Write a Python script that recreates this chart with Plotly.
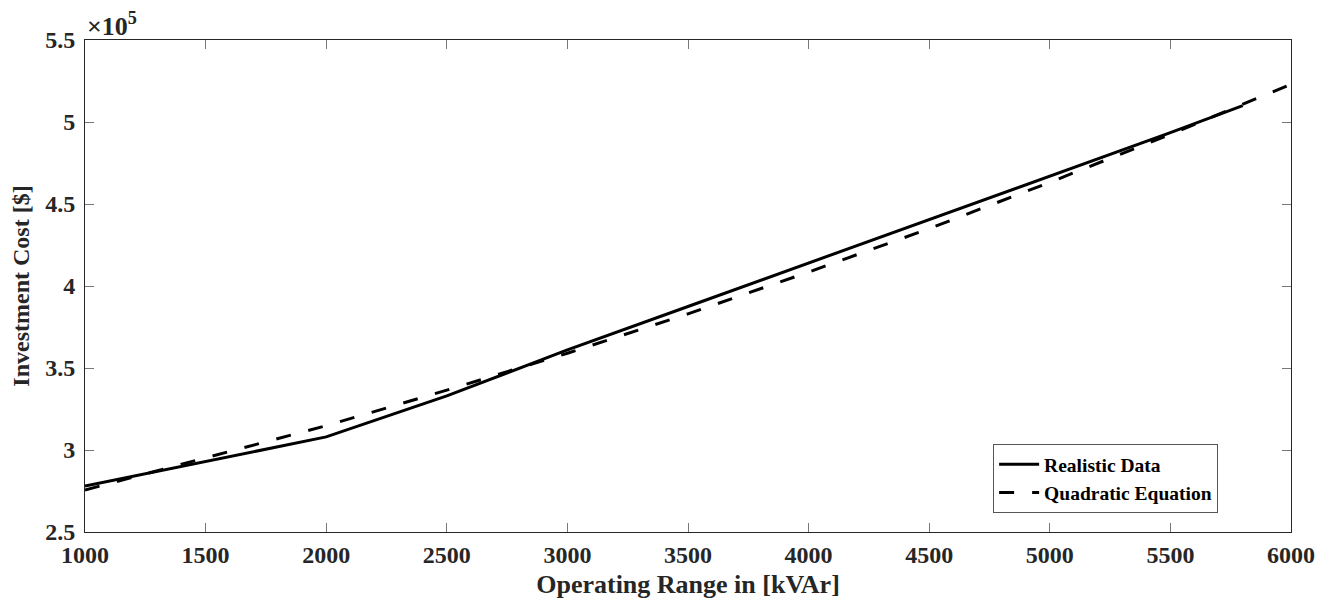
import plotly.graph_objects as go

# Operating range [kVAr] and investment cost [$] of the realistic data set
real_range = [1000, 1500, 2000, 2500, 3000, 3500, 4000, 4500, 5000, 5500, 5800]
real_cost = [278000, 293000, 308000, 333000, 361000, 387500, 414000, 440500, 467000, 493500, 510000]

# Quadratic fit evaluated across the full operating range
fit_range = [1000, 1500, 2000, 2500, 3000, 3500, 4000, 4500, 5000, 5500, 6000]
fit_cost = [275600, 295000, 314800, 336500, 359000, 383000, 408500, 435000, 463200, 492500, 523000]

x_ticks = [1000, 1500, 2000, 2500, 3000, 3500, 4000, 4500, 5000, 5500, 6000]
y_ticks = [250000, 300000, 350000, 400000, 450000, 500000, 550000]
y_tick_text = ["2.5", "3", "3.5", "4", "4.5", "5", "5.5"]

FONT = "Liberation Serif"
AXIS = "#262626"

fig = go.Figure()
fig.add_trace(go.Scatter(
    x=real_range, y=real_cost, mode="lines", name="<b>Realistic Data</b>",
    line=dict(color="black", width=3),
))
fig.add_trace(go.Scatter(
    x=fit_range, y=fit_cost, mode="lines", name="<b>Quadratic Equation</b>",
    line=dict(color="black", width=3, dash="15px,18px"),
))

axis_common = dict(
    showgrid=False, zeroline=False, showline=True, linecolor=AXIS, linewidth=1,
    mirror="ticks", ticks="inside", ticklen=9, tickcolor="#777777", tickwidth=1,
    tickfont=dict(family=FONT, size=24, color=AXIS), automargin=False,
)

fig.update_layout(
    width=1332, height=600,
    margin=dict(l=85, r=41, t=40, b=68),
    paper_bgcolor="white", plot_bgcolor="white",
    font=dict(family=FONT, color=AXIS),
    showlegend=True,
    legend=dict(
        x=0.753, y=0.0386, xanchor="left", yanchor="bottom",
        bgcolor="white", bordercolor="#555555", borderwidth=1,
        font=dict(family=FONT, size=19.5, color="black"),
        tracegroupgap=0, itemwidth=40,
    ),
    xaxis=dict(
        range=[1000, 6000], tickvals=x_ticks,
        ticktext=[f"<b>{v}</b>" for v in x_ticks],
        ticklabelstandoff=1,
        title=dict(text="<b>Operating Range in [kVAr]</b>",
                   font=dict(family=FONT, size=26, color=AXIS), standoff=8),
        **axis_common,
    ),
    yaxis=dict(
        range=[250000, 550000], tickvals=y_ticks,
        ticktext=[f"<b>{t}</b>" for t in y_tick_text],
        ticklabelstandoff=4,
        title=dict(text="<b>Investment Cost [$]</b>",
                   font=dict(family=FONT, size=24, color=AXIS), standoff=8),
        **axis_common,
    ),
)

# Exponent label for the y axis
fig.add_annotation(
    xref="paper", yref="paper", x=0.0, y=1.0, xanchor="left", yanchor="bottom",
    text="<b>×10<sup>5</sup></b>", showarrow=False, xshift=0, yshift=-3,
    font=dict(family=FONT, size=26, color=AXIS),
)

fig.write_html("out.html")
